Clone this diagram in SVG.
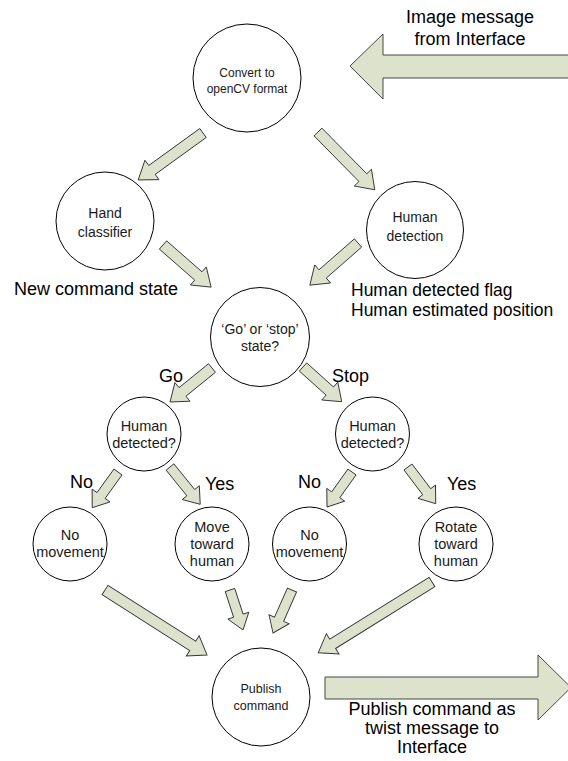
<svg xmlns="http://www.w3.org/2000/svg" width="568" height="761" viewBox="0 0 568 761">
<style>
.bg{fill:#ffffff}
.node circle{fill:#ffffff;stroke:#000000;stroke-width:1}
.nt{font-family:"Liberation Sans",Arial,sans-serif;fill:#1a1a1a;text-anchor:middle}
.s0{font-size:12px}
.s1{font-size:12.5px}
.s2{font-size:14px}
.s3{font-size:14.5px}
.lbl{font-family:"Liberation Sans",Arial,sans-serif;font-size:18px;fill:#000000}
.arr polygon{fill:#dde2cd;stroke:#333333;stroke-width:0.9;stroke-linejoin:miter}
</style>
<rect class="bg" x="0" y="0" width="568" height="761"/>

<g id="connectors" class="arr">
  <polygon points="350,66 383,34 383,55 575,55 575,78 383,78 383,99"/>
  <polygon transform="translate(203,133) rotate(144.1)" points="0,-5.5 63,-5.5 63,-12 80,0 63,12 63,5.5 0,5.5"/>
  <polygon transform="translate(318,132) rotate(45.5)" points="0,-5.5 64,-5.5 64,-12 81,0 64,12 64,5.5 0,5.5"/>
  <polygon transform="translate(163,245) rotate(41.2)" points="0,-5.5 47,-5.5 47,-12 64,0 47,12 47,5.5 0,5.5"/>
  <polygon transform="translate(358,243) rotate(138.8)" points="0,-5.5 47,-5.5 47,-12 64,0 47,12 47,5.5 0,5.5"/>
  <polygon transform="translate(212,368) rotate(141)" points="0,-5.5 38,-5.5 38,-12 54,0 38,12 38,5.5 0,5.5"/>
  <polygon transform="translate(303,367) rotate(41.9)" points="0,-5.5 36,-5.5 36,-12 52,0 36,12 36,5.5 0,5.5"/>
  <polygon transform="translate(118,472) rotate(125.8)" points="0,-5 29,-5 29,-11 44,0 29,11 29,5 0,5"/>
  <polygon transform="translate(170,467) rotate(51)" points="0,-5 33,-5 33,-11 48,0 33,11 33,5 0,5"/>
  <polygon transform="translate(352,472) rotate(125.5)" points="0,-5 28,-5 28,-11 43,0 28,11 28,5 0,5"/>
  <polygon transform="translate(408,467) rotate(52.9)" points="0,-5 31,-5 31,-11 46,0 31,11 31,5 0,5"/>
  <polygon transform="translate(105,590) rotate(32.5)" points="0,-5.5 104,-5.5 104,-12 121,0 104,12 104,5.5 0,5.5"/>
  <polygon transform="translate(230,590) rotate(72)" points="0,-5 27,-5 27,-11 42,0 27,11 27,5 0,5"/>
  <polygon transform="translate(292,590) rotate(113.8)" points="0,-5 32,-5 32,-11 47,0 32,11 32,5 0,5"/>
  <polygon transform="translate(432,582) rotate(148.1)" points="0,-5.5 117,-5.5 117,-12 134,0 117,12 117,5.5 0,5.5"/>
  <polygon points="325,677 538,677 538,655 571,687.5 538,720 538,699 325,699"/>
</g>

<g id="n-convert" class="node">
  <circle cx="247" cy="78" r="54"/>
  <text class="nt s0" x="247" y="77">Convert to</text>
  <text class="nt s0" x="247" y="93">openCV format</text>
</g>
<g id="n-hand" class="node">
  <circle cx="105" cy="221" r="49"/>
  <text class="nt s2" x="105" y="218">Hand</text>
  <text class="nt s2" x="105" y="237">classifier</text>
</g>
<g id="n-human" class="node">
  <circle cx="415" cy="230" r="48.5"/>
  <text class="nt s2" x="415" y="222">Human</text>
  <text class="nt s2" x="415" y="241">detection</text>
</g>
<g id="n-gostop" class="node">
  <circle cx="260" cy="337" r="49.5"/>
  <text class="nt s2" x="260" y="334">‘Go’ or ‘stop’</text>
  <text class="nt s2" x="260" y="351">state?</text>
</g>
<g id="n-hd-left" class="node">
  <circle cx="144" cy="434" r="37"/>
  <text class="nt s3" x="144" y="431">Human</text>
  <text class="nt s3" x="144" y="448">detected?</text>
</g>
<g id="n-hd-right" class="node">
  <circle cx="372.5" cy="434" r="37"/>
  <text class="nt s3" x="372.5" y="431">Human</text>
  <text class="nt s3" x="372.5" y="448">detected?</text>
</g>
<g id="n-nomove-left" class="node">
  <circle cx="70" cy="544" r="37"/>
  <text class="nt s3" x="70" y="540">No</text>
  <text class="nt s3" x="70" y="557">movement</text>
</g>
<g id="n-move" class="node">
  <circle cx="212" cy="544" r="37"/>
  <text class="nt s3" x="212" y="532">Move</text>
  <text class="nt s3" x="212" y="549">toward</text>
  <text class="nt s3" x="212" y="566">human</text>
</g>
<g id="n-nomove-right" class="node">
  <circle cx="309.5" cy="544" r="37"/>
  <text class="nt s3" x="309.5" y="540">No</text>
  <text class="nt s3" x="309.5" y="557">movement</text>
</g>
<g id="n-rotate" class="node">
  <circle cx="456" cy="544" r="37"/>
  <text class="nt s3" x="456" y="532">Rotate</text>
  <text class="nt s3" x="456" y="549">toward</text>
  <text class="nt s3" x="456" y="566">human</text>
</g>
<g id="n-publish" class="node">
  <circle cx="261" cy="697" r="49"/>
  <text class="nt s1" x="261" y="693">Publish</text>
  <text class="nt s1" x="261" y="710">command</text>
</g>

<g id="labels">
  <text class="lbl" x="470" y="23" text-anchor="middle">Image message</text>
  <text class="lbl" x="470" y="45" text-anchor="middle">from Interface</text>
  <text class="lbl" x="14" y="295">New command state</text>
  <text class="lbl" x="351" y="295.5" style="font-size:17.5px">Human detected flag</text>
  <text class="lbl" x="351" y="315.5" style="font-size:17.5px">Human estimated position</text>
  <text class="lbl" x="159" y="382">Go</text>
  <text class="lbl" x="332" y="382">Stop</text>
  <text class="lbl" x="70" y="488">No</text>
  <text class="lbl" x="205" y="490">Yes</text>
  <text class="lbl" x="298" y="488">No</text>
  <text class="lbl" x="447" y="490">Yes</text>
  <text class="lbl" x="432" y="715" text-anchor="middle">Publish command as</text>
  <text class="lbl" x="432" y="734" text-anchor="middle">twist message to</text>
  <text class="lbl" x="432" y="753" text-anchor="middle">Interface</text>
</g>
</svg>
